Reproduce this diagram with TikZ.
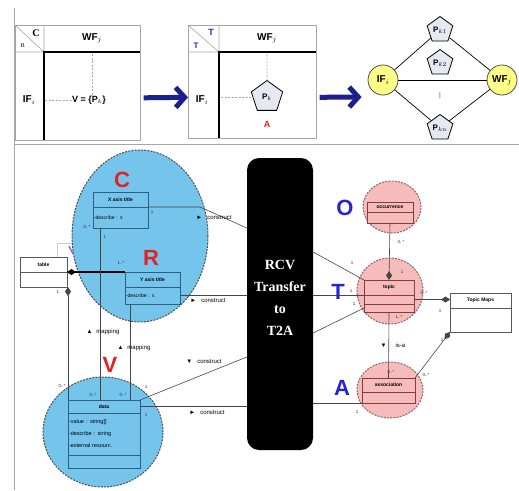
\documentclass[tikz,border=0pt]{standalone}
\usepackage{fontspec}
\setmainfont{Liberation Sans}
\newfontfamily\rcvfont{Liberation Serif}
\usepackage{tikz}
\usetikzlibrary{positioning,shapes.geometric,arrows.meta,calc}
\definecolor{navy}{HTML}{1A1F8C}
\definecolor{skyfill}{HTML}{74C4EC}
\definecolor{skyline}{HTML}{2D5F80}
\definecolor{rosefill}{HTML}{F6BBBB}
\definecolor{roseline}{HTML}{8A3A3A}
\definecolor{nodeyel}{HTML}{FFFF88}
\definecolor{pentfill}{HTML}{E6E8F2}
\definecolor{letred}{HTML}{E02222}
\definecolor{letblue}{HTML}{2424D0}
\newcommand{\umlfont}{\fontsize{5}{6}\selectfont}
\tikzset{
  tabline/.style={draw=gray!70,line width=0.6pt},
  tabthick/.style={draw=black,line width=1.6pt},
  guide/.style={draw=gray!70,dash pattern=on 2pt off 1.5pt,line width=0.6pt},
  bigarrow/.style={draw=navy,line width=5pt,-{Straight Barb[length=9pt,width=20pt]}},
  hdr/.style={font=\bfseries\fontsize{10}{12}\selectfont,inner sep=0pt},
  pent/.style={regular polygon,regular polygon sides=5,draw=black,fill=pentfill,
    line width=0.8pt,minimum size=27,inner sep=0pt,font=\bfseries\fontsize{8}{9}\selectfont},
  vert/.style={circle,draw=gray!60!black,fill=nodeyel,line width=0.8pt,minimum size=30,
    inner sep=0pt,font=\bfseries\fontsize{10}{11}\selectfont},
  link/.style={draw=black,line width=0.7pt},
  blob/.style={ellipse,dash pattern=on 2pt off 1.2pt,line width=1pt,inner sep=0pt},
  skyblob/.style={blob,draw=gray!60!black,fill=skyfill},
  roseblob/.style={blob,draw=rosefill!55!black,fill=rosefill},
  skyhd/.style={draw=skyline,fill=skyfill,font=\umlfont\bfseries,inner sep=0pt,outer sep=0pt,line width=0.6pt},
  skybd/.style={draw=skyline,fill=skyfill,font=\umlfont,inner sep=1pt,outer sep=0pt,align=left,line width=0.6pt},
  rosehd/.style={draw=roseline,fill=rosefill,font=\umlfont\bfseries,inner sep=0pt,outer sep=0pt,line width=0.6pt},
  rosebd/.style={draw=roseline,fill=rosefill,inner sep=0pt,outer sep=0pt,line width=0.6pt},
  plainhd/.style={draw=gray!70!black,fill=white,font=\umlfont\bfseries,inner sep=0pt,outer sep=0pt,line width=0.6pt},
  plainbd/.style={draw=gray!70!black,fill=white,inner sep=0pt,outer sep=0pt,line width=0.6pt},
  wire/.style={draw=gray!55!black,line width=0.6pt},
  comp/.style={wire,-{Diamond[length=9pt,width=6pt]}},
  mult/.style={font=\fontsize{4.5}{5}\selectfont,text=black!80,inner sep=0pt},
  role/.style={font=\fontsize{6}{6}\selectfont,inner sep=0pt},
  letter/.style={font=\bfseries\fontsize{22}{22}\selectfont,inner sep=0pt},
  rcvbox/.style={rectangle,fill=black,rounded corners=12pt,minimum width=66,minimum height=292},
}

\begin{document}
\begin{tikzpicture}[x=1pt,y=-1pt]
  \useasboundingbox (0,0) rectangle (519,490);
  \draw[tabline] (14,8) -- (14,490);
  \draw[tabline] (14,144) -- (519,144);

  % R/C table
  \node[tabline,minimum width=125,minimum height=115,anchor=north west,inner sep=0pt] (tab1) at (15,25) {};
  \draw[tabline] (15,52) -- (44,52) (44,25) -- (44,52) (15,25) -- (44,52);
  \draw[tabthick] (140,52) -| (44,140);
  \node[font=\rcvfont\bfseries\fontsize{10}{10}\selectfont,inner sep=0pt] (c1) at (36,33) {C};
  \node[font=\rcvfont\fontsize{6}{6}\selectfont,inner sep=0pt] (r1) at (23,46) {R};
  \node[hdr] (wf1) at (92,38) {WF$_j$};
  \node[hdr] (if1) at (29,100) {IF$_i$};
  \node[hdr,font=\bfseries\fontsize{9}{10}\selectfont] (v1) at (89,100) {V = \{P$_k$\}};
  \draw[guide] (v1.west -| 45,0) -- (v1.west);
  \draw[guide] (wf1 |- 0,54) -- (wf1 |- v1.north);

  % T/T table
  \node[tabline,minimum width=128,minimum height=113,anchor=north west,inner sep=0pt] (tab2) at (188,25) {};
  \draw[tabline] (188,52) -- (219,52) (219,25) -- (219,52) (188,25) -- (219,52);
  \draw[tabthick] (316,52) -| (219,138);
  \node[font=\bfseries\fontsize{9}{9}\selectfont,text=letblue,inner sep=0pt] (t2a) at (211,32) {T};
  \node[font=\bfseries\fontsize{8}{8}\selectfont,text=letblue,inner sep=0pt] (t2b) at (196,46) {T};
  \node[hdr] (wf2) at (267,38) {WF$_j$};
  \node[hdr] (if2) at (202,100) {IF$_i$};
  \node[pent,minimum size=33] (pk) at (267,97) {P$_k$};
  \node[font=\bfseries\fontsize{9}{9}\selectfont,text=letred,inner sep=0pt] (a2) at (267,124) {A};
  \draw[guide] (wf2 |- 0,54) -- (pk.north);
  \draw[guide] (pk.west -| 221,0) -- (pk.west);

  \draw[bigarrow] ([xshift=3,yshift=-15]tab1.east) -- ([yshift=-15.5]tab2.west);

  % topic graph
  \node[vert] (vif) at (383,80) {IF$_i$};
  \node[vert] (vwf) at (502,80) {WF$_j$};
  \node[pent] (pk1) at (440,30) {P$_{k1}$};
  \node[pent] (pk2) at (440,63) {P$_{k2}$};
  \node[pent] (pkn) at (440,128) {P$_{kn}$};
  \node[font=\fontsize{7}{7}\selectfont,text=gray!60!black,inner sep=0pt] (gap) at (440,96) {|};
  \draw[link] (vif) -- (pk1) -- (vwf);
  \draw[link] (vif) -- (vwf);
  \draw[link] (vif) -- (pkn) -- (vwf);

  \draw[bigarrow] ([xshift=3,yshift=-15.5]tab2.east) -- ([xshift=-6,yshift=-17]vif.west);

  % bottom: blobs and transfer box
  \node[skyblob,minimum width=136,minimum height=172] (crblob) at (140,236) {};
  \node[skyblob,minimum width=120,minimum height=110] (vblob) at (103,432) {};
  \node[roseblob,minimum width=58,minimum height=52] (oblob) at (392,207) {};
  \node[roseblob,minimum width=66,minimum height=66] (tblob) at (390,291) {};
  \node[roseblob,minimum width=66,minimum height=56] (ablob) at (390,390) {};
  \node[rcvbox] (rcv) at (280,304) {};
  \node[text=white,font=\rcvfont\bfseries\fontsize{14}{22}\selectfont,align=center] (rcvtxt)
    at ([yshift=6]rcv.center) {RCV\\Transfer\\to\\T2A};

  % classes
  \node[skyhd,minimum width=55,minimum height=15,anchor=north west] (xhd) at (93,192) {X axis title};
  \node[skybd,text width=53,minimum height=21,below=0pt of xhd] (xbd) {-describe : s};
  \node[skyhd,minimum width=55,minimum height=15,anchor=north west] (yhd) at (125,272) {Y axis title};
  \node[skybd,text width=53,minimum height=17,below=0pt of yhd] (ybd) {-describe : s};
  \node[plainhd,minimum width=47,minimum height=15,anchor=north west] (thd) at (20,257) {table};
  \node[plainbd,minimum width=47,minimum height=15,below=0pt of thd] (tbd) {};
  \node[skyhd,minimum width=72,minimum height=13,anchor=north west] (dhd) at (68,400) {data};
  \node[skybd,text width=70,minimum height=42,below=0pt of dhd,font=\fontsize{5.5}{12}\selectfont] (dbd)
    {-value : string[]\\-describe : string\\-external resourc.};
  \node[skybd,text width=70,minimum height=13,below=0pt of dbd] (dex) {};
  \node[rosehd,minimum width=46,minimum height=10,anchor=north west] (ohd) at (367,202) {occurrence};
  \node[rosebd,minimum width=46,minimum height=11,below=0pt of ohd] (obd) {};
  \node[rosehd,minimum width=50,minimum height=15,anchor=north west] (phd) at (364,280) {topic};
  \node[rosebd,minimum width=50,minimum height=9,below=0pt of phd] (pbd) {};
  \node[rosebd,minimum width=50,minimum height=8,below=0pt of pbd] (pex) {};
  \node[rosehd,minimum width=53,minimum height=14,anchor=north west] (ahd) at (362,378) {association};
  \node[rosebd,minimum width=53,minimum height=11,below=0pt of ahd] (abd) {};
  \node[plainhd,minimum width=61,minimum height=15,anchor=north west] (mhd) at (450,293) {Topic Maps};
  \node[plainbd,minimum width=61,minimum height=24,below=0pt of mhd] (mbd) {};

  % connectors
  \coordinate (xm) at (100,0);
  \coordinate (ym) at (130,0);
  \draw[gray!40,line width=0.6pt] (thd.north -| 57,0) |- (72,243);
  \draw[violet!70!blue!60,line width=1.5pt] (69,246) -- (73,254);
  \draw[comp,line width=1.3pt,draw=black] (yhd.north west) -- (thd.south east);
  \draw[comp] (dhd.north west) -- (dhd.north west |- tbd.south);
  \draw[wire] (xbd.south -| xm) -- (dhd.north -| xm);
  \draw[wire] (ybd.south -| ym) -- (dhd.north -| ym);
  \draw[wire] (xbd.north east) -- ++(52,0) -- ([yshift=76]rcv.west);
  \draw[wire] (ybd.east) -- (rcv.west |- ybd.east);
  \draw[wire] (dhd.north east) -- ([yshift=-53]rcv.west);
  \draw[wire] (dhd.east) -- (rcv.west |- dhd.east);
  \draw[wire] ([yshift=52]rcv.east) -- (phd.north west);
  \draw[wire] (rcv.east |- phd.south west) -- (phd.south west);
  \draw[wire] ([yshift=-29]rcv.east) -- (pex.west);
  \draw[wire] (rcv.east |- abd.south west) -- (abd.south west);
  \draw[comp] (obd.south) -- (phd.north);
  \draw[comp] (pbd.east) -- (pbd.east -| mhd.west);
  \draw[wire] (pex.south) -- (ahd.north);
  \draw[comp] (ahd.north east) -- (mbd.south west);

  % role names
  \node[role] (cn1) at (214,218) {►\hspace{5pt}construct};
  \node[role] (cn2) at (208,301) {►\hspace{5pt}construct};
  \node[role] (cn3) at (204,362) {▼\hspace{5pt}construct};
  \node[role] (cn4) at (207,413) {►\hspace{5pt}construct};
  \node[role] (mp1) at (103,332) {▲\hspace{4pt}mapping};
  \node[role] (mp2) at (134,348) {▲\hspace{4pt}mapping};
  \node[role] (isa) at (393,345) {▼\hspace{9pt}is-a};

  % multiplicities
  \node[mult] at (121,263) {1..*};
  \node[mult,text=violet!70!blue] at (87,227) {0..*};
  \node[mult] at (105,237) {1};
  \node[mult] at (152,212) {1};
  \node[mult] at (58,292) {1};
  \node[mult] at (62,386) {0..*};
  \node[mult] at (93,395) {0..*};
  \node[mult] at (123,395) {0..*};
  \node[mult] at (146,387) {1};
  \node[mult] at (146,415) {1};
  \node[mult] at (352,263) {1};
  \node[mult] at (351,291) {1};
  \node[mult] at (354,304) {1};
  \node[mult] at (357,412) {1};
  \node[mult] at (401,242) {0..*};
  \node[mult] at (402,272) {1};
  \node[mult] at (424,293) {0..*};
  \node[mult] at (440,311) {1};
  \node[mult] at (399,317) {1..*};
  \node[mult] at (391,372) {0..*};
  \node[mult] at (426,375) {0..*};
  \node[mult] at (442,340) {1};

  % letters
  \node[letter,text=letred] (lc) at (122,180) {C};
  \node[letter,text=letred] (lr) at (151,258) {R};
  \node[letter,text=letred] (lv) at (110,365) {V};
  \node[letter,text=letblue] (lo) at (345,208) {O};
  \node[letter,text=letblue] (lt) at (338,292) {T};
  \node[letter,text=letblue] (la) at (342,388) {A};
\end{tikzpicture}
\end{document}
